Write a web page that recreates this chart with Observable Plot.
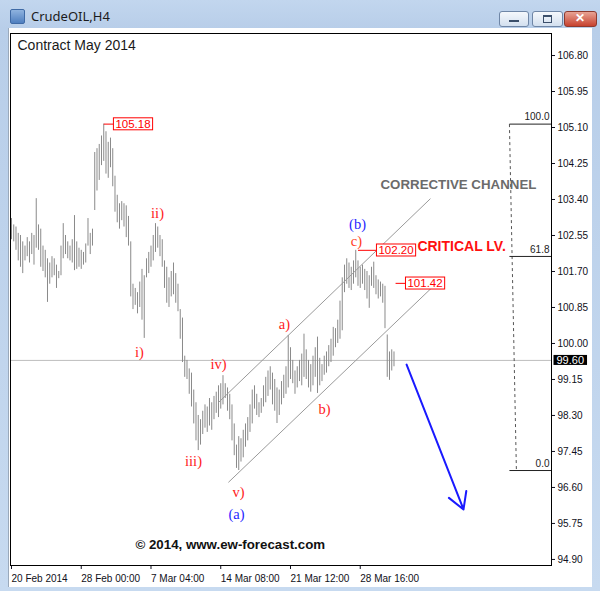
<!DOCTYPE html>
<html><head><meta charset="utf-8">
<script src="https://cdn.jsdelivr.net/npm/d3@7"></script>
<script src="https://cdn.jsdelivr.net/npm/@observablehq/plot@0.6"></script>
<style>
html,body{margin:0;padding:0;background:#fff;}
#win{position:relative;width:600px;height:591px;overflow:hidden;background:linear-gradient(180deg,#c2d6ee 0,#b8cee9 28px,#c7daf0 100%);font-family:"Liberation Sans",Arial,sans-serif;}
#client{position:absolute;left:8px;top:28px;width:583px;height:559px;background:#fff;border-left:1px solid #9aa9bb;}
#title{position:absolute;left:31px;top:7px;font-size:13px;color:#1b1b1b;font-family:"Noto Sans","Liberation Sans",Arial,sans-serif;}
#icon{position:absolute;left:10px;top:9px;width:13px;height:13px;background:linear-gradient(#8fb3df,#4f7fbf);border:1px solid #3f6aa5;border-radius:2px;}
.btn{position:absolute;top:11px;height:14px;border:1px solid #6f86a6;border-radius:3px;background:linear-gradient(#f5f8fc,#d3e0ef);}
#bmin{left:499px;width:28px;} #bmax{left:532px;width:29px;} #bclose{left:564px;width:31px;background:linear-gradient(#e8a394,#c7422f);border-color:#8e3a2e;}
#bmin:after{content:"";position:absolute;left:9px;top:8px;width:10px;height:2px;background:#3b4f6b;}
#bmax:after{content:"";position:absolute;left:10px;top:3px;width:7px;height:5px;border:1px solid #3b4f6b;border-top-width:2px;}
#bclose:after{content:"\2715";position:absolute;left:10px;top:-1px;font-size:12px;color:#fff;font-weight:bold;}
#chart{position:absolute;left:0;top:0;}
</style>
</head><body>
<div id="win">
  <div id="icon"></div>
  <div id="title">CrudeOIL,H4</div>
  <div class="btn" id="bmin"></div><div class="btn" id="bmax"></div><div class="btn" id="bclose"></div>
  <div id="client"></div>
  <div id="chart"></div>
</div>
<script>
// ---- data (H4 bars) ----
const highs = [102.95,102.80,102.75,102.60,102.55,102.40,102.30,102.50,102.40,102.60,
102.55,103.42,102.80,102.70,102.30,102.20,102.00,101.90,102.05,102.00,
101.85,101.70,102.30,102.83,102.55,102.40,102.30,102.45,103.02,102.40,
102.25,102.20,102.15,102.35,102.95,102.60,102.70,104.51,104.60,104.70,
104.90,105.18,105.00,104.75,104.85,104.60,103.95,103.50,103.30,103.35,
103.30,103.25,103.00,102.40,101.40,101.30,101.20,101.45,101.75,101.60,
102.00,102.15,102.30,102.55,102.83,102.75,102.55,102.45,101.95,101.80,
101.55,101.70,101.90,101.65,101.40,100.80,100.60,99.70,99.60,99.40,
99.30,98.90,98.60,98.30,98.20,98.40,98.55,98.50,98.70,98.60,
98.75,98.85,99.00,99.05,99.24,99.05,98.95,98.80,98.55,98.10,
97.60,97.80,97.75,97.95,98.10,98.25,98.55,98.90,99.00,98.80,
98.60,98.70,99.00,99.20,99.35,99.45,99.30,99.15,98.95,98.90,
99.10,99.25,99.45,100.19,99.90,99.60,99.35,99.45,99.60,99.75,
100.22,99.85,99.60,99.50,99.70,99.90,100.15,99.65,99.50,99.70,
99.80,99.95,100.10,100.38,100.35,100.55,101.00,101.55,101.85,102.00,
101.90,101.80,101.95,102.20,101.95,101.80,101.85,101.75,101.70,101.60,
101.80,101.92,101.60,101.50,101.45,101.40,101.35,100.20,99.80,99.85,99.80];
const lows = [102.45,102.40,102.20,101.95,101.80,101.65,101.95,102.05,101.90,102.10,
101.85,102.25,102.20,101.80,101.70,101.55,100.97,101.40,101.55,101.60,
101.30,101.53,101.60,102.00,102.10,102.00,101.95,101.90,101.72,101.75,
101.80,101.75,101.85,101.90,102.30,102.10,102.30,103.14,103.60,103.85,
104.20,104.30,104.00,103.90,104.15,103.70,103.10,102.85,102.70,102.90,
102.75,102.50,102.30,101.10,100.80,100.90,100.70,100.85,100.55,100.12,
101.55,101.65,101.80,101.95,102.15,102.25,102.05,101.80,101.30,100.95,
100.85,101.10,101.15,100.95,100.75,100.10,99.55,99.20,99.15,98.80,
98.50,98.10,97.70,97.47,97.60,97.85,98.00,97.90,98.05,97.95,
98.20,98.35,98.25,98.45,98.55,98.70,98.40,98.20,97.70,97.35,
97.05,97.00,97.20,97.30,97.55,97.70,97.90,98.10,98.45,98.30,
98.25,98.35,98.50,98.60,98.75,98.90,98.55,98.40,98.11,98.30,
98.55,98.70,98.80,98.95,99.15,99.05,98.80,98.95,99.10,99.00,
99.20,99.15,98.95,98.85,99.00,99.20,98.82,99.00,99.10,99.25,
99.30,99.45,99.55,99.70,99.90,100.00,100.10,100.30,101.20,101.40,
101.30,101.25,101.40,101.55,101.35,101.30,101.40,101.25,101.05,100.83,
101.35,101.30,101.15,101.05,101.10,100.95,100.35,99.20,99.13,99.35,99.45];
const currentPrice = 99.60;
const yTicks = [106.80,105.95,105.10,104.25,103.40,102.55,101.70,100.85,100.00,99.15,98.30,97.45,96.60,95.75,94.90];
const xTickIndex = [0,31,62,93,124,155];
const xTickLabels = ["20 Feb 2014","28 Feb 00:00","7 Mar 04:00","14 Mar 08:00","21 Mar 12:00","28 Mar 16:00"];

// Elliott wave labels
const waveText  = ["i)","ii)","iii)","iv)","v)","(a)","a)","b)","c)","(b)"];
const waveX     = [56.9,64.9,80.9,92.0,100.9,100.0,121.3,139.1,153.3,153.8];
const wavePrice = [99.79,103.07,97.21,99.50,96.48,95.96,100.45,98.44,102.40,102.82];
const waveColor = ["#ff1a1a","#ff1a1a","#ff1a1a","#ff1a1a","#ff1a1a","#1f1fff","#ff1a1a","#ff1a1a","#ff3a1a","#1f1fff"];

// price callouts
const calloutPrice = [105.18,102.20,101.42];
const calloutFrom  = [41.0,154.0,170.7];
const calloutTo    = [45.3,162.2,175.1];

// corrective channel lines
const channelX1 = [92.0,96.4], channelP1 = [98.607,96.72];
const channelX2 = [186.2,191.6], channelP2 = [103.42,101.56];

// fibonacci retracement
const fibHigh = 105.18, fibLow = 97.00;
const fibLevels = [100.0,61.8,0.0];
const fibLabels = ["100.0","61.8","0.0"];
const fibXStart = 221.3, fibXEnd = 240, fibXBottom = 224.4;

// forecast arrow
const arrowFrom = {x:175.6,p:99.50}, arrowTo = {x:200.9,p:96.08};

// free text
const notes = [
  {x:164.0, p:103.75, t:"CORRECTIVE CHANNEL", fill:"#6b6b6b", size:13.3},
  {x:180.4, p:102.29, t:"CRITICAL LV.", fill:"#ff1010", size:14},
  {x:55.1,  p:95.25,  t:"\u00a9 2014, www.ew-forecast.com", fill:"#111", size:13.3}
];

// ---- build tables ----
const bars = highs.map((h,i)=>({i, high:h, low:lows[i]}));
const waves = waveText.map((t,k)=>({t, x:waveX[k], p:wavePrice[k], c:waveColor[k]}));
const callouts = calloutPrice.map((p,k)=>({p, x1:calloutFrom[k], x2:calloutTo[k], t:p.toFixed(2)}));
const channel = channelX1.map((x,k)=>({x1:x, y1:channelP1[k], x2:channelX2[k], y2:channelP2[k]}));
const fib = fibLevels.map((l,k)=>({p: fibLow + (fibHigh-fibLow)*l/100, t:fibLabels[k]}));
const xTicks = xTickIndex.map((i,k)=>({i, label:xTickLabels[k]}));

const plot = Plot.plot({
  width: 600, height: 591,
  marginLeft: 10, marginRight: 49, marginTop: 33, marginBottom: 26,
  style: {background:"transparent", fontFamily:"Liberation Sans, Arial, sans-serif", fontSize:"10px", color:"#101020", overflow:"visible"},
  x: {domain:[-0.44,240], ticks:xTickIndex, tickFormat:()=>"", tickSize:4, label:null},
  y: {domain:[94.757,107.32], axis:"right", ticks:yTicks, tickFormat:d=>d.toFixed(2), tickSize:3, tickPadding:3, label:null},
  marks: [
    Plot.ruleY([currentPrice], {stroke:"#bdbdbd"}),
    Plot.ruleX(bars, {x:"i", y1:"low", y2:"high", stroke:"#8a8a8a", strokeWidth:1}),
    Plot.link(channel, {x1:"x1", y1:"y1", x2:"x2", y2:"y2", stroke:"#9a9a9a", strokeWidth:1}),
    Plot.link(callouts, {x1:"x1", x2:"x2", y1:"p", y2:"p", stroke:"#ff0000"}),
    Plot.text(callouts, {x:"x2", y:"p", text:"t", textAnchor:"start", dx:2, fill:"#ff0000", fontSize:11.5}),
    Plot.link([{x1:fibXStart, y1:fibHigh, x2:fibXBottom, y2:fibLow}], {x1:"x1", y1:"y1", x2:"x2", y2:"y2", stroke:"#555", strokeDasharray:"3,3"}),
    Plot.link(fib, {x1:()=>fibXStart, x2:()=>fibXEnd, y1:"p", y2:"p", stroke:"#222"}),
    Plot.text(fib, {x:()=>fibXEnd, y:"p", text:"t", textAnchor:"end", dx:-2, dy:-7, fill:"#222", fontSize:10}),
    Plot.arrow([{x1:arrowFrom.x, y1:arrowFrom.p, x2:arrowTo.x, y2:arrowTo.p}], {x1:"x1", y1:"y1", x2:"x2", y2:"y2", stroke:"#1a1aff", strokeWidth:2, headLength:14}),
    Plot.text(waves, {x:"x", y:"p", text:"t", fill:"c", fontSize:14.5, fontFamily:"Liberation Serif, Times New Roman, serif"}),
    Plot.text(notes, {x:"x", y:"p", text:"t", fill:"fill", fontSize:"size", fontWeight:"bold", textAnchor:"start", fontFamily:"Liberation Sans, Arial, sans-serif"}),
    Plot.text(["Contract May 2014"], {frameAnchor:"top-left", text:d=>d, dx:7, dy:7, textAnchor:"start", fontSize:14, fill:"#1a1a1a"}),
    Plot.text(xTicks, {x:"i", text:"label", frameAnchor:"bottom", dy:16, dx:0, textAnchor:"start", fill:"#101020", fontSize:10}),
    Plot.text([currentPrice], {x:()=>240, y:d=>d, text:d=>d.toFixed(2), textAnchor:"start", dx:5, fill:"#fff", fontSize:11}),
    Plot.frame({stroke:"#000"})
  ]
});
document.getElementById("chart").append(plot);

function boxes(labels, fill, stroke, padX, padY) {
  plot.querySelectorAll("text").forEach(t => {
    if (!labels.includes(t.textContent)) return;
    const b = t.getBBox();
    const r = document.createElementNS("http://www.w3.org/2000/svg","rect");
    r.setAttribute("x", b.x - padX); r.setAttribute("y", b.y - padY);
    r.setAttribute("width", b.width + 2*padX); r.setAttribute("height", b.height + 2*padY);
    r.setAttribute("fill", fill); r.setAttribute("stroke", stroke || "none");
    const tr = t.getAttribute("transform"); if (tr) r.setAttribute("transform", tr);
    t.parentNode.insertBefore(r, t);
  });
}
boxes(callouts.map(d=>d.t), "#fff", "#ff0000", 2, 0);
boxes([currentPrice.toFixed(2)], "#000", null, 3, -1);
</script>
</body></html>
